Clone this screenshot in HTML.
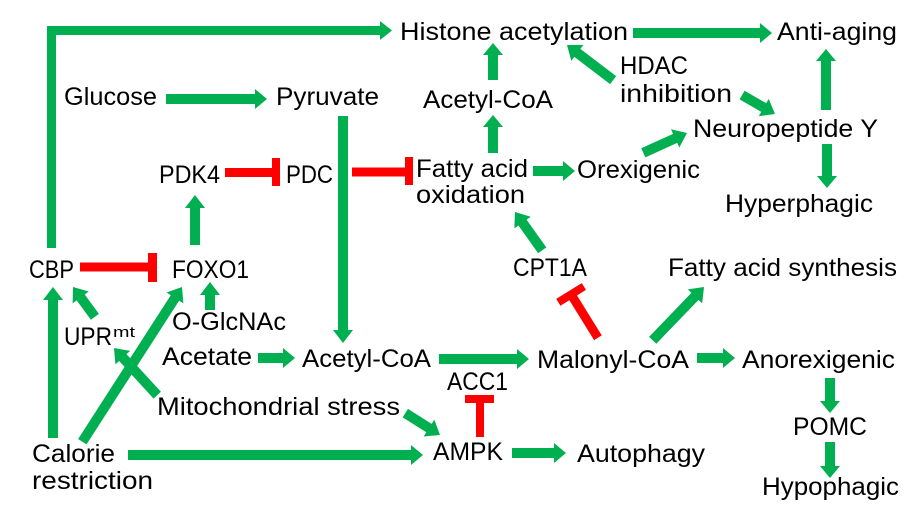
<!DOCTYPE html>
<html>
<head>
<meta charset="utf-8">
<style>
  html,body{margin:0;padding:0;background:#fff;}
  svg{display:block;}
  text{font-family:"Liberation Sans",sans-serif;font-size:25px;fill:#000;}
</style>
</head>
<body>
<svg width="921" height="513" viewBox="0 0 921 513" xmlns="http://www.w3.org/2000/svg">
  <rect width="921" height="513" fill="#fff"/>

  <!-- GREEN ARROWS -->
  <g fill="#00B050">
    <!-- CBP -> Histone acetylation (elbow) -->
    <rect x="47" y="26" width="9" height="222"/>
    <rect x="47" y="26" width="333" height="9"/>
    <polygon points="380,21 392,30.5 380,40"/>

    <!-- straight arrows: tip translate + rotate; polygon along +x ending at origin -->
    <g transform="translate(267,99) rotate(0)"><polygon points="-101,-5 -12,-5 -12,-10 0,0 -12,10 -12,5 -101,5"/></g>
    <g transform="translate(343,343) rotate(90)"><polygon points="-227,-5 -13,-5 -13,-10 0,0 -13,10 -13,5 -227,5"/></g>
    <g transform="translate(195,195) rotate(-90)"><polygon points="-50,-5 -13,-5 -13,-10 0,0 -13,10 -13,5 -50,5"/></g>
    <g transform="translate(53,287) rotate(-90)"><polygon points="-151,-5 -13,-5 -13,-10 0,0 -13,10 -13,5 -151,5"/></g>
    <g transform="translate(210,282) rotate(-90)"><polygon points="-28,-5 -13,-5 -13,-10 0,0 -13,10 -13,5 -28,5"/></g>
    <g transform="translate(423,455) rotate(0)"><polygon points="-295,-5 -12,-5 -12,-10 0,0 -12,10 -12,5 -295,5"/></g>
    <g transform="translate(295,358) rotate(0)"><polygon points="-37,-5 -12,-5 -12,-10 0,0 -12,10 -12,5 -37,5"/></g>
    <g transform="translate(529,359) rotate(0)"><polygon points="-90,-5 -12,-5 -12,-10 0,0 -12,10 -12,5 -90,5"/></g>
    <g transform="translate(735,358) rotate(0)"><polygon points="-38,-5 -12,-5 -12,-10 0,0 -12,10 -12,5 -38,5"/></g>
    <g transform="translate(830,413) rotate(90)"><polygon points="-35,-5 -12,-5 -12,-10 0,0 -12,10 -12,5 -35,5"/></g>
    <g transform="translate(830,478) rotate(90)"><polygon points="-36,-5 -12,-5 -12,-10 0,0 -12,10 -12,5 -36,5"/></g>
    <g transform="translate(566,453) rotate(0)"><polygon points="-54,-5 -12,-5 -12,-10 0,0 -12,10 -12,5 -54,5"/></g>
    <g transform="translate(493,115) rotate(-90)"><polygon points="-38,-5 -12,-5 -12,-10 0,0 -12,10 -12,5 -38,5"/></g>
    <g transform="translate(493,43) rotate(-90)"><polygon points="-37,-5 -12,-5 -12,-10 0,0 -12,10 -12,5 -37,5"/></g>
    <g transform="translate(575,171) rotate(0)"><polygon points="-42,-5 -12,-5 -12,-10 0,0 -12,10 -12,5 -42,5"/></g>
    <g transform="translate(772,33) rotate(0)"><polygon points="-139,-5 -12,-5 -12,-10 0,0 -12,10 -12,5 -139,5"/></g>
    <g transform="translate(826,49) rotate(-90)"><polygon points="-61,-5 -12,-5 -12,-10 0,0 -12,10 -12,5 -61,5"/></g>
    <g transform="translate(827,188) rotate(90)"><polygon points="-44,-5 -12,-5 -12,-10 0,0 -12,10 -12,5 -44,5"/></g>

    <!-- diagonals -->
    <g transform="translate(73,287) rotate(-126.3)"><polygon points="-37,-5 -13,-5 -13,-10 0,0 -13,10 -13,5 -37,5"/></g>
    <g transform="translate(182,287) rotate(-57.2)"><polygon points="-184,-5 -13,-5 -13,-10 0,0 -13,10 -13,5 -184,5"/></g>
    <g transform="translate(114,348) rotate(-132.5)"><polygon points="-64,-5 -13,-5 -13,-10 0,0 -13,10 -13,5 -64,5"/></g>
    <g transform="translate(440,435) rotate(32.2)"><polygon points="-41,-5 -13,-5 -13,-10 0,0 -13,10 -13,5 -41,5"/></g>
    <g transform="translate(515,212) rotate(-125.4)"><polygon points="-47,-5 -13,-5 -13,-10 0,0 -13,10 -13,5 -47,5"/></g>
    <g transform="translate(704,287) rotate(-46.1)"><polygon points="-74,-5 -13,-5 -13,-10 0,0 -13,10 -13,5 -74,5"/></g>
    <g transform="translate(567,45) rotate(-142.7)"><polygon points="-58,-5 -13,-5 -13,-10 0,0 -13,10 -13,5 -58,5"/></g>
    <g transform="translate(775,114) rotate(29.9)"><polygon points="-38,-5 -13,-5 -13,-10 0,0 -13,10 -13,5 -38,5"/></g>
    <g transform="translate(687,133) rotate(-24.4)"><polygon points="-48,-5 -13,-5 -13,-10 0,0 -13,10 -13,5 -48,5"/></g>
  </g>

  <!-- RED INHIBITION -->
  <g fill="#FF0000">
    <rect x="225" y="168" width="47" height="9"/>
    <rect x="272" y="158" width="8" height="28"/>
    <rect x="352" y="167.5" width="53" height="9"/>
    <rect x="405" y="157" width="8" height="28"/>
    <rect x="80" y="262.5" width="68" height="9"/>
    <rect x="148" y="253" width="9" height="29"/>
    <rect x="476" y="402" width="8" height="35"/>
    <rect x="465" y="395" width="29" height="8"/>
    <g transform="translate(569,291) rotate(-121.7)">
      <rect x="-55" y="-4.5" width="48" height="9"/>
      <rect x="-8" y="-15" width="8" height="30"/>
    </g>
  </g>

  <!-- LABELS -->
  <g>
    <text x="400" y="40" textLength="228" lengthAdjust="spacingAndGlyphs">Histone acetylation</text>
    <text x="777" y="40" textLength="120" lengthAdjust="spacingAndGlyphs">Anti-aging</text>
    <text x="64" y="105" textLength="93" lengthAdjust="spacingAndGlyphs">Glucose</text>
    <text x="276" y="105" textLength="103" lengthAdjust="spacingAndGlyphs">Pyruvate</text>
    <text x="423" y="108" textLength="130" lengthAdjust="spacingAndGlyphs">Acetyl-CoA</text>
    <text x="620" y="74" textLength="68" lengthAdjust="spacingAndGlyphs">HDAC</text>
    <text x="620" y="102" textLength="112" lengthAdjust="spacingAndGlyphs">inhibition</text>
    <text x="693" y="137" textLength="185" lengthAdjust="spacingAndGlyphs">Neuropeptide Y</text>
    <text x="159" y="183" textLength="61" lengthAdjust="spacingAndGlyphs">PDK4</text>
    <text x="286" y="183" textLength="47" lengthAdjust="spacingAndGlyphs">PDC</text>
    <text x="416" y="177" textLength="112" lengthAdjust="spacingAndGlyphs">Fatty acid</text>
    <text x="416" y="203" textLength="109" lengthAdjust="spacingAndGlyphs">oxidation</text>
    <text x="577" y="178" textLength="123" lengthAdjust="spacingAndGlyphs">Orexigenic</text>
    <text x="725" y="212" textLength="148" lengthAdjust="spacingAndGlyphs">Hyperphagic</text>
    <text x="513" y="276" textLength="74" lengthAdjust="spacingAndGlyphs">CPT1A</text>
    <text x="668" y="276" textLength="229" lengthAdjust="spacingAndGlyphs">Fatty acid synthesis</text>
    <text x="29" y="278" textLength="45" lengthAdjust="spacingAndGlyphs">CBP</text>
    <text x="172" y="278" textLength="77" lengthAdjust="spacingAndGlyphs">FOXO1</text>
    <text x="172" y="330" textLength="114" lengthAdjust="spacingAndGlyphs">O-GlcNAc</text>
    <text x="64" y="345" textLength="48" lengthAdjust="spacingAndGlyphs">UPR</text>
    <text x="113" y="337" style="font-size:15px" textLength="22" lengthAdjust="spacingAndGlyphs">mt</text>
    <text x="162" y="365" textLength="90" lengthAdjust="spacingAndGlyphs">Acetate</text>
    <text x="302" y="367" textLength="129" lengthAdjust="spacingAndGlyphs">Acetyl-CoA</text>
    <text x="537" y="368" textLength="152" lengthAdjust="spacingAndGlyphs">Malonyl-CoA</text>
    <text x="742" y="368" textLength="153" lengthAdjust="spacingAndGlyphs">Anorexigenic</text>
    <text x="447" y="390" textLength="61" lengthAdjust="spacingAndGlyphs">ACC1</text>
    <text x="157" y="415" textLength="243" lengthAdjust="spacingAndGlyphs">Mitochondrial stress</text>
    <text x="32" y="462" textLength="83" lengthAdjust="spacingAndGlyphs">Calorie</text>
    <text x="32" y="489" textLength="121" lengthAdjust="spacingAndGlyphs">restriction</text>
    <text x="433" y="460" textLength="70" lengthAdjust="spacingAndGlyphs">AMPK</text>
    <text x="577" y="462" textLength="128" lengthAdjust="spacingAndGlyphs">Autophagy</text>
    <text x="793" y="435" textLength="74" lengthAdjust="spacingAndGlyphs">POMC</text>
    <text x="762" y="495" textLength="137" lengthAdjust="spacingAndGlyphs">Hypophagic</text>
  </g>
</svg>
</body>
</html>
